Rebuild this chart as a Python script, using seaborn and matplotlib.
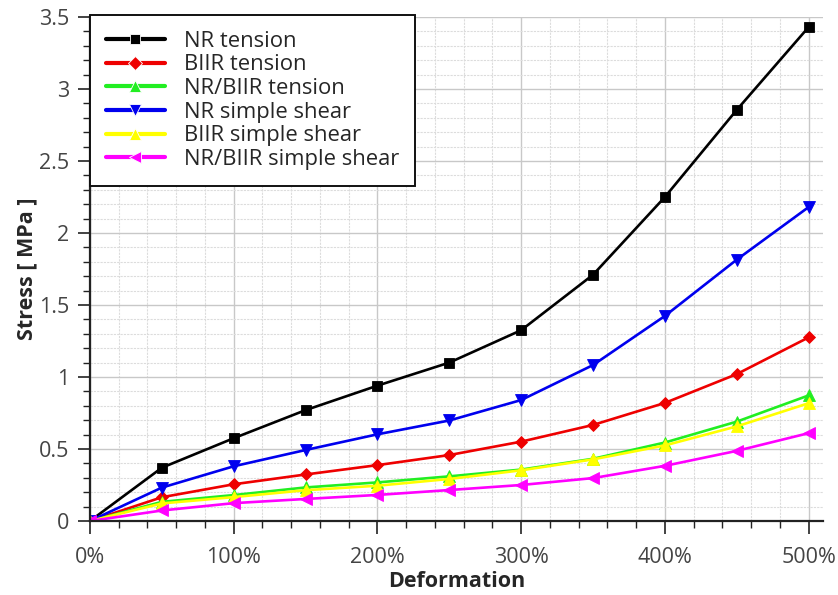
import numpy as np
import pandas as pd
import matplotlib
matplotlib.use("Agg")
import matplotlib.pyplot as plt
from matplotlib.ticker import MultipleLocator, FuncFormatter
import seaborn as sns

# Deformation in percent
deformation = [0, 50, 100, 150, 200, 250, 300, 350, 400, 450, 500]

# Stress in MPa for each material / loading case
nr_tension = [0, 0.37, 0.575, 0.77, 0.94, 1.10, 1.325, 1.71, 2.25, 2.855, 3.43]
biir_tension = [0, 0.165, 0.255, 0.323, 0.388, 0.458, 0.551, 0.667, 0.82, 1.02, 1.275]
nrbiir_tension = [0, 0.133, 0.18, 0.233, 0.268, 0.31, 0.357, 0.432, 0.545, 0.69, 0.872]
nr_shear = [0, 0.232, 0.38, 0.493, 0.602, 0.698, 0.84, 1.083, 1.424, 1.815, 2.18]
biir_shear = [0, 0.122, 0.166, 0.214, 0.245, 0.292, 0.352, 0.428, 0.525, 0.657, 0.818]
nrbiir_shear = [0, 0.073, 0.124, 0.153, 0.181, 0.215, 0.25, 0.298, 0.383, 0.487, 0.61]

series_names = ["NR tension", "BIIR tension", "NR/BIIR tension",
                "NR simple shear", "BIIR simple shear", "NR/BIIR simple shear"]
series_values = [nr_tension, biir_tension, nrbiir_tension,
                 nr_shear, biir_shear, nrbiir_shear]
colors = ["#000000", "#ee0000", "#22ee22", "#0000ee", "#ffff00", "#ff00ff"]
marker_shapes = ["s", "D", "^", "v", "^", "<"]
marker_sizes = [6.5, 6.0, 8.0, 8.0, 8.0, 8.0]

df = pd.concat(
    [pd.DataFrame({"Deformation": deformation, "Stress": vals, "series": name})
     for name, vals in zip(series_names, series_values)],
    ignore_index=True,
)

sns.set_style("white")
plt.rcParams["font.family"] = ["Open Sans", "DejaVu Sans"]

fig = plt.figure(figsize=(8.38, 5.95), dpi=100)
ax = fig.add_axes([90 / 838, 74 / 595, (823 - 90) / 838, (578 - 74) / 595])

sns.lineplot(
    data=df, x="Deformation", y="Stress",
    hue="series", style="series",
    hue_order=series_names, style_order=series_names,
    palette=dict(zip(series_names, colors)),
    markers=dict(zip(series_names, marker_shapes)),
    dashes=False, linewidth=1.9, markersize=7,
    markeredgewidth=0.6, ax=ax,
)
# marker edges in the series colour, per-shape sizes
for line, c, ms in zip(ax.get_lines(), colors, marker_sizes):
    line.set_markeredgecolor(c)
    line.set_markersize(ms)

ax.set_xlim(0, 510)
ax.set_ylim(0, 3.5)
ax.xaxis.set_major_locator(MultipleLocator(100))
ax.xaxis.set_minor_locator(MultipleLocator(20))
ax.yaxis.set_major_locator(MultipleLocator(0.5))
ax.yaxis.set_minor_locator(MultipleLocator(0.1))
ax.xaxis.set_major_formatter(FuncFormatter(lambda v, p: f"{v:.0f}%"))
ax.yaxis.set_major_formatter(FuncFormatter(lambda v, p: f"{v:g}"))

ax.grid(which="major", color="#c8c8c8", linewidth=1.0, linestyle="-")
ax.grid(which="minor", color="#dcdcdc", linewidth=0.8, linestyle=(0, (2, 1)))
ax.set_axisbelow(True)

for side in ("top", "right"):
    ax.spines[side].set_visible(False)
for side in ("left", "bottom"):
    ax.spines[side].set_color("#222222")
    ax.spines[side].set_linewidth(1.6)

ax.tick_params(which="major", direction="out", length=9, width=1.2,
               color="#222222", labelsize=15.5, labelcolor="#444444",
               bottom=True, left=True)
ax.tick_params(axis="x", which="major", pad=10)
ax.tick_params(axis="y", which="major", pad=6)
ax.tick_params(which="minor", direction="out", length=5, width=1.0,
               color="#222222", bottom=True, left=True)

ax.set_xlabel("Deformation", fontsize=15.5, fontweight="bold", labelpad=2)
ax.set_ylabel("Stress [ MPa ]", fontsize=15.5, fontweight="bold", labelpad=1)

handles, labels = ax.get_legend_handles_labels()
leg = ax.legend(handles, labels, loc="upper left", bbox_to_anchor=(0, 1.004),
                borderaxespad=0, fontsize=15.8, frameon=True, fancybox=False,
                handlelength=2.7, handletextpad=0.85, labelspacing=0.12,
                borderpad=0.72)
leg.get_frame().set_edgecolor("#111111")
leg.get_frame().set_linewidth(1.4)
leg.get_frame().set_facecolor("white")
leg.get_frame().set_alpha(1.0)
for h, ms in zip(leg.legend_handles, marker_sizes):
    h.set_linewidth(3.0)
    h.set_markersize(ms + 1)

fig.savefig("out.png", dpi=100)
